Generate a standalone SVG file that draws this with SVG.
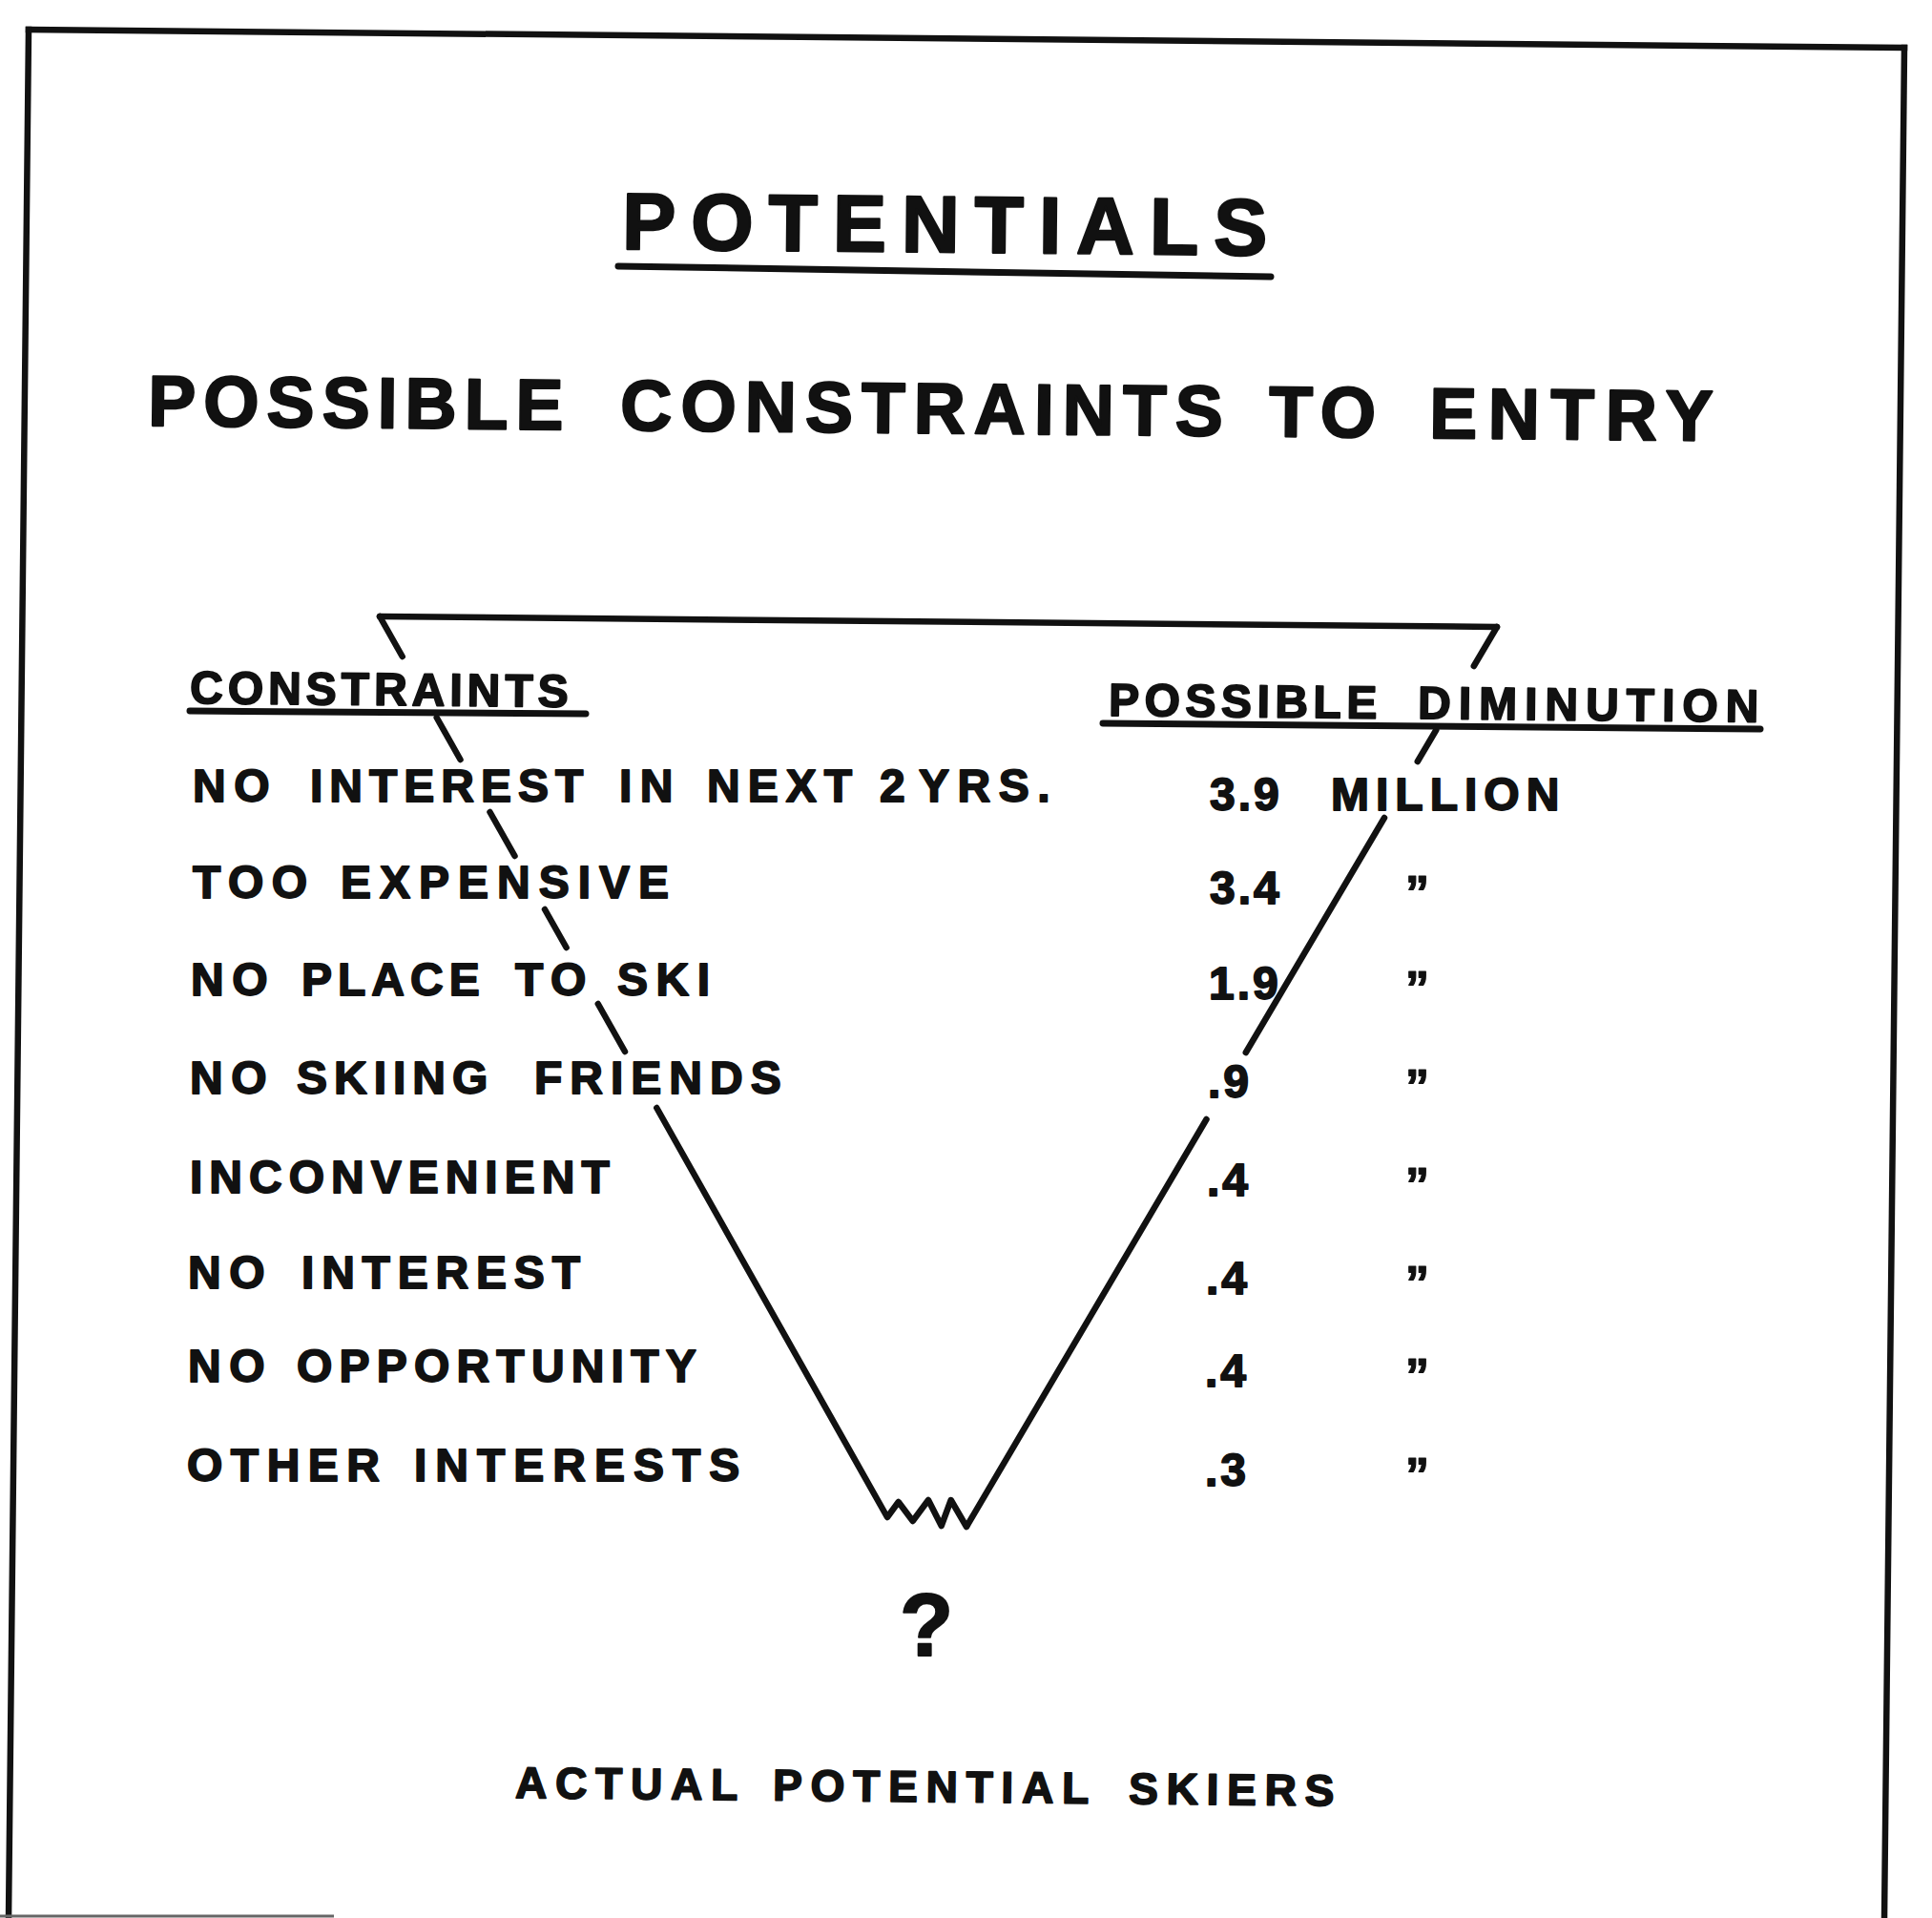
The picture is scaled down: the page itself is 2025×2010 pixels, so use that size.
<svg xmlns="http://www.w3.org/2000/svg" width="2025" height="2010" viewBox="0 0 2025 2010">
<style>
  text { font-family: "Liberation Sans", Arial, sans-serif; font-weight: bold; fill: #111; stroke: #111; stroke-linejoin: round; }
  .t1 { font-size: 84px; letter-spacing: 16px; stroke-width: 2.4; }
  .t2 { font-size: 75px; letter-spacing: 9px; stroke-width: 2.2; }
  .row { font-size: 48px; letter-spacing: 8.5px; stroke-width: 1.8; }
  .num { font-size: 48px; letter-spacing: 3px; stroke-width: 1.8; }
  .q { font-size: 50px; stroke-width: 1.2; }
  .foot { font-size: 46px; letter-spacing: 8.8px; stroke-width: 1.8; }
  .qm { font-size: 92px; stroke-width: 2; }
  .frame { stroke: #111; stroke-width: 6.5; fill: none; stroke-linecap: square; }
  .ul { stroke: #111; stroke-width: 7; fill: none; stroke-linecap: round; }
  .v { stroke: #111; stroke-width: 6.5; fill: none; stroke-linecap: round; stroke-linejoin: round; }
</style>
<rect width="2025" height="2010" fill="#fff"/>

<g id="frame">
  <line class="frame" x1="30" y1="31" x2="1996" y2="50"/>
  <line class="frame" x1="1996" y1="50" x2="1975" y2="2012"/>
  <line class="frame" x1="30" y1="31" x2="9" y2="2012"/>
  <line x1="0" y1="2008" x2="350" y2="2008" stroke="#666" stroke-width="3"/>
</g>

<g id="title">
  <text class="t1" x="652" y="261" transform="rotate(0.55 652 261)">POTENTIALS</text>
  <line class="ul" x1="648" y1="279" x2="1332" y2="290"/>
</g>

<g id="subtitle">
  <text class="t2" x="155" y="446" transform="rotate(0.55 155 446)"><tspan x="155" letter-spacing="8">POSSIBLE</tspan><tspan x="650">CONSTRAINTS</tspan><tspan x="1330">TO</tspan><tspan x="1498" letter-spacing="11.5">ENTRY</tspan></text>
</g>

<g id="connectors">
  <path class="v" d="M398 646 L1569 657"/>
  <path class="v" d="M398 646 L421.7 688 M457.7 752 L482.5 796 M513.5 851 L539.5 897 M571 953 L593.6 993 M626.8 1052 L655 1102 M688.3 1161 L930 1590 L941.7 1574 L956.7 1594 L973 1572 L986.7 1599 L996.7 1572 L1013 1600 L1264.5 1173 M1305.8 1103 L1451 857 M1485.8 798 L1505.3 765 M1544.8 698 L1569 657"/>
</g>

<g id="constraints">
  <text class="row" x="199" y="737" textLength="405" lengthAdjust="spacing" transform="rotate(0.55 199 737)">CONSTRAINTS</text>
  <line class="ul" x1="199" y1="745" x2="614" y2="748"/>
  <text class="row" x="202" y="840"><tspan x="202">NO</tspan><tspan x="325" letter-spacing="7">INTEREST</tspan><tspan x="649">IN</tspan><tspan x="741" letter-spacing="8">NEXT</tspan><tspan x="922">2</tspan><tspan x="963">YRS.</tspan></text>
  <text class="row" x="202" y="941"><tspan x="202">TOO</tspan><tspan x="357" letter-spacing="9">EXPENSIVE</tspan></text>
  <text class="row" x="200" y="1043"><tspan x="200">NO</tspan><tspan x="316" letter-spacing="6">PLACE</tspan><tspan x="540">TO</tspan><tspan x="647">SKI</tspan></text>
  <text class="row" x="199" y="1146"><tspan x="199">NO</tspan><tspan x="311" letter-spacing="7">SKIING</tspan><tspan x="560" letter-spacing="8">FRIENDS</tspan></text>
  <text class="row" x="199" y="1250"><tspan x="199" letter-spacing="7">INCONVENIENT</tspan></text>
  <text class="row" x="197" y="1350"><tspan x="197">NO</tspan><tspan x="316" letter-spacing="7.8">INTEREST</tspan></text>
  <text class="row" x="197" y="1448"><tspan x="197">NO</tspan><tspan x="311" letter-spacing="7.2">OPPORTUNITY</tspan></text>
  <text class="row" x="196" y="1552"><tspan x="196">OTHER</tspan><tspan x="434" letter-spacing="9">INTERESTS</tspan></text>
</g>

<g id="diminution">
  <text class="row" x="1162" y="750" transform="rotate(0.55 1162 750)"><tspan x="1162" letter-spacing="5.5">POSSIBLE</tspan><tspan x="1486" letter-spacing="8">DIMINUTION</tspan></text>
  <line class="ul" x1="1156" y1="758" x2="1845" y2="764"/>
  <text class="num" x="1268" y="849"><tspan x="1268">3.9</tspan><tspan x="1395" letter-spacing="7">MILLION</tspan></text>
  <text class="num" x="1268" y="947">3.4</text>
  <text class="num" x="1267" y="1047">1.9</text>
  <text class="num" x="1266" y="1150">.9</text>
  <text class="num" x="1265" y="1253">.4</text>
  <text class="num" x="1264" y="1356">.4</text>
  <text class="num" x="1263" y="1453">.4</text>
  <text class="num" x="1263" y="1557">.3</text>
  <text class="q" x="1473" y="953">”</text>
  <text class="q" x="1473" y="1053">”</text>
  <text class="q" x="1473" y="1156">”</text>
  <text class="q" x="1473" y="1259">”</text>
  <text class="q" x="1473" y="1362">”</text>
  <text class="q" x="1473" y="1459">”</text>
  <text class="q" x="1473" y="1563">”</text>
</g>

<g id="result">
  <text class="qm" x="943" y="1735">?</text>
  <text class="foot" x="540" y="1884" transform="rotate(0.55 540 1884)"><tspan x="540">ACTUAL</tspan><tspan x="810">POTENTIAL</tspan><tspan x="1183">SKIERS</tspan></text>
</g>
</svg>
